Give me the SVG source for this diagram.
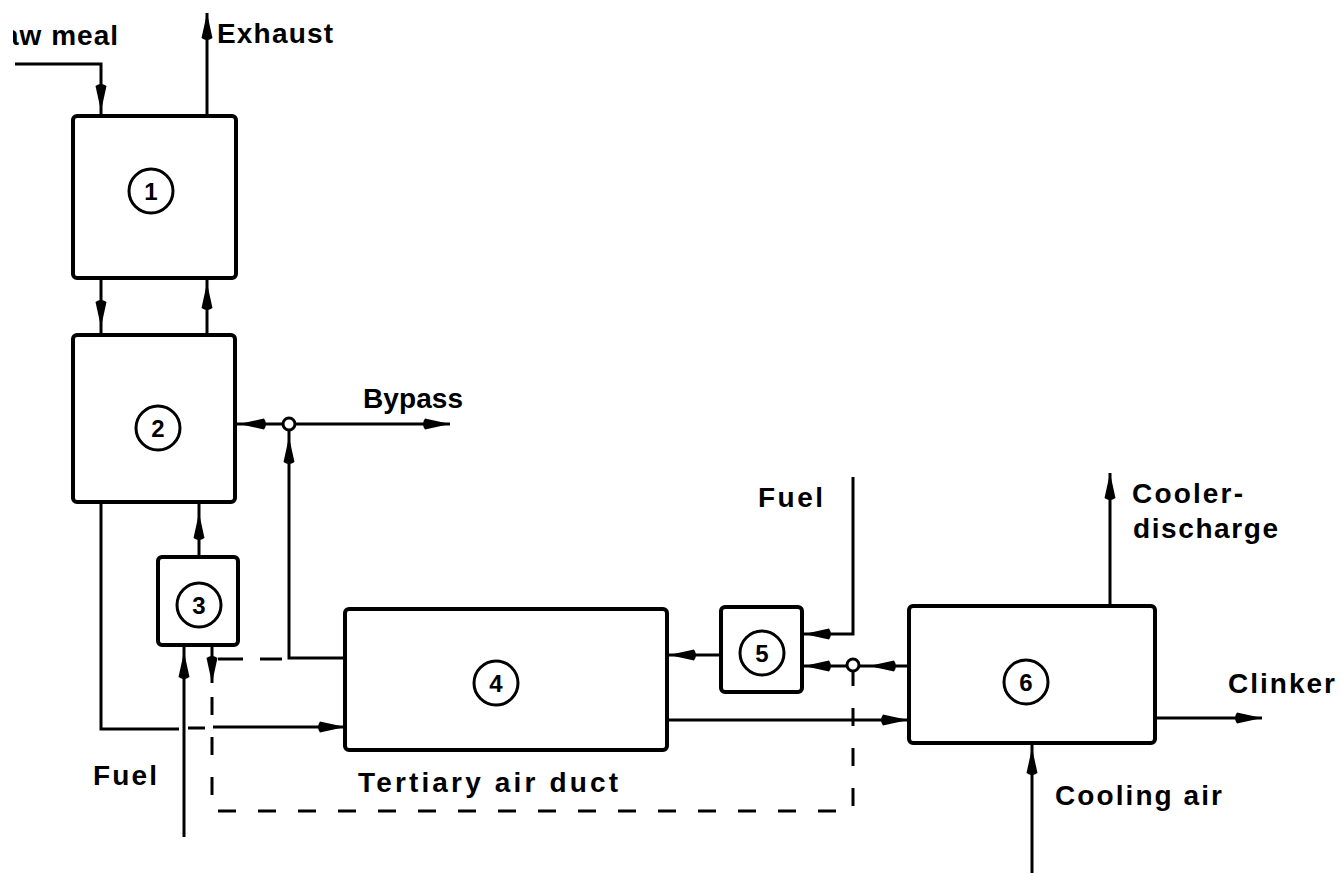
<svg xmlns="http://www.w3.org/2000/svg" xmlns:xlink="http://www.w3.org/1999/xlink" width="1341" height="873" viewBox="0 0 1341 873">
<style>
.box{fill:#fff;stroke:#000;stroke-width:4;stroke-linejoin:round}
.ln{fill:none;stroke:#000;stroke-width:3;stroke-linecap:butt;stroke-linejoin:miter}
.dash{fill:none;stroke:#000;stroke-width:3;stroke-dasharray:25 17}
.num{fill:none;stroke:#000;stroke-width:3}
.jn{fill:#fff;stroke:#000;stroke-width:3}
.lbl{font-family:"Liberation Sans",Arial,sans-serif;font-weight:bold;font-size:28px;fill:#000}
.dig{font-family:"Liberation Sans",Arial,sans-serif;font-weight:bold;font-size:24px;fill:#000;text-anchor:middle}
</style>
<defs>
<path id="ah" d="M0,0 L-25,-5.5 Q-29,0 -25,5.5 Z" fill="#000"/>
<clipPath id="cl"><rect x="13" y="0" width="200" height="60"/></clipPath>
</defs>
<rect width="1341" height="873" fill="#fff"/>

<g id="connectors">
  <!-- raw meal -->
  <polyline class="ln" points="15,64 101,64 101,116"/>
  <use xlink:href="#ah" transform="translate(101,111) rotate(90)"/>
  <!-- exhaust -->
  <line class="ln" x1="207" y1="116" x2="207" y2="13"/>
  <use xlink:href="#ah" transform="translate(207,13) rotate(-90)"/>
  <!-- box1 <-> box2 -->
  <line class="ln" x1="101" y1="278" x2="101" y2="335"/>
  <use xlink:href="#ah" transform="translate(101,327) rotate(90)"/>
  <line class="ln" x1="207" y1="278" x2="207" y2="335"/>
  <use xlink:href="#ah" transform="translate(207,283) rotate(-90)"/>
  <!-- box3 -> box2 -->
  <line class="ln" x1="199" y1="502" x2="199" y2="557"/>
  <use xlink:href="#ah" transform="translate(199,513) rotate(-90)"/>
  <!-- bypass -->
  <line class="ln" x1="235" y1="424" x2="283" y2="424"/>
  <line class="ln" x1="295" y1="424" x2="450" y2="424"/>
  <use xlink:href="#ah" transform="translate(239,424) rotate(180)"/>
  <use xlink:href="#ah" transform="translate(450,424)"/>
  <!-- kiln gas up to junction -->
  <polyline class="ln" points="345,658 289,658 289,430"/>
  <use xlink:href="#ah" transform="translate(289,437) rotate(-90)"/>
  <circle class="jn" cx="289" cy="424" r="6"/>
  <!-- box2 bottom to kiln inlet -->
  <polyline class="ln" points="101,502 101,729 179,729"/>
  <line class="ln" x1="188" y1="728" x2="205" y2="728"/>
  <line class="ln" x1="213" y1="727" x2="345" y2="727"/>
  <use xlink:href="#ah" transform="translate(345,727)"/>
  <!-- fuel into box3 -->
  <line class="ln" x1="184" y1="645" x2="184" y2="837"/>
  <use xlink:href="#ah" transform="translate(184,652) rotate(-90)"/>
  <!-- dashed tertiary air -->
  <line class="ln" x1="212" y1="645" x2="212" y2="683"/>
  <use xlink:href="#ah" transform="translate(212,683) rotate(90)"/>
  <line class="dash" x1="218" y1="659" x2="282" y2="659"/>
  <polyline class="dash" points="212,697 212,811 853,811 853,672" style="stroke-dasharray:18 22"/>
  <!-- box5 -> box4 -->
  <line class="ln" x1="721" y1="655" x2="667" y2="655"/>
  <use xlink:href="#ah" transform="translate(669,655) rotate(180)"/>
  <!-- fuel into box5 -->
  <polyline class="ln" points="853,477 853,634 802,634"/>
  <use xlink:href="#ah" transform="translate(804,634) rotate(180)"/>
  <!-- box6 -> junction -> box5 -->
  <line class="ln" x1="909" y1="666" x2="859" y2="666"/>
  <line class="ln" x1="847" y1="666" x2="802" y2="666"/>
  <use xlink:href="#ah" transform="translate(869,666) rotate(180)"/>
  <use xlink:href="#ah" transform="translate(804,666) rotate(180)"/>
  <circle class="jn" cx="853" cy="665" r="6"/>
  <!-- box4 -> box6 -->
  <line class="ln" x1="667" y1="720" x2="909" y2="720"/>
  <use xlink:href="#ah" transform="translate(908,720)"/>
  <!-- cooler discharge -->
  <line class="ln" x1="1110" y1="606" x2="1110" y2="473"/>
  <use xlink:href="#ah" transform="translate(1110,473) rotate(-90)"/>
  <!-- clinker -->
  <line class="ln" x1="1155" y1="718" x2="1262" y2="718"/>
  <use xlink:href="#ah" transform="translate(1262,718)"/>
  <!-- cooling air -->
  <line class="ln" x1="1032" y1="873" x2="1032" y2="743"/>
  <use xlink:href="#ah" transform="translate(1032,748) rotate(-90)"/>
</g>

<g id="node1">
  <rect class="box" x="73" y="116" width="163" height="162" rx="4"/>
  <circle class="num" cx="151" cy="191" r="22"/>
  <text class="dig" x="151" y="200">1</text>
</g>
<g id="node2">
  <rect class="box" x="73" y="335" width="162" height="167" rx="4"/>
  <circle class="num" cx="158" cy="428" r="22"/>
  <text class="dig" x="158" y="437">2</text>
</g>
<g id="node3">
  <rect class="box" x="158" y="557" width="80" height="88" rx="4"/>
  <circle class="num" cx="199" cy="605" r="22"/>
  <text class="dig" x="199" y="614">3</text>
</g>
<g id="node4">
  <rect class="box" x="345" y="609" width="322" height="141" rx="4"/>
  <circle class="num" cx="496" cy="683" r="22"/>
  <text class="dig" x="496" y="692">4</text>
</g>
<g id="node5">
  <rect class="box" x="721" y="607" width="81" height="85" rx="4"/>
  <circle class="num" cx="762" cy="653" r="22"/>
  <text class="dig" x="762" y="662">5</text>
</g>
<g id="node6">
  <rect class="box" x="909" y="606" width="246" height="137" rx="4"/>
  <circle class="num" cx="1026" cy="682" r="22"/>
  <text class="dig" x="1026" y="691">6</text>
</g>

<g id="labels">
  <text class="lbl" x="3" y="45" textLength="115" lengthAdjust="spacing" clip-path="url(#cl)">aw meal</text>
  <text class="lbl" x="217" y="43" textLength="116" lengthAdjust="spacing">Exhaust</text>
  <text class="lbl" x="363" y="408" textLength="100" lengthAdjust="spacing">Bypass</text>
  <text class="lbl" x="758" y="507" textLength="65" lengthAdjust="spacing">Fuel</text>
  <text class="lbl" x="1132" y="503" textLength="111" lengthAdjust="spacing">Cooler-</text>
  <text class="lbl" x="1133" y="538" textLength="145" lengthAdjust="spacing">discharge</text>
  <text class="lbl" x="1228" y="693" textLength="107" lengthAdjust="spacing">Clinker</text>
  <text class="lbl" x="93" y="785" textLength="64" lengthAdjust="spacing">Fuel</text>
  <text class="lbl" x="358" y="792" textLength="260" lengthAdjust="spacing">Tertiary air duct</text>
  <text class="lbl" x="1055" y="805" textLength="167" lengthAdjust="spacing">Cooling air</text>
</g>
</svg>
